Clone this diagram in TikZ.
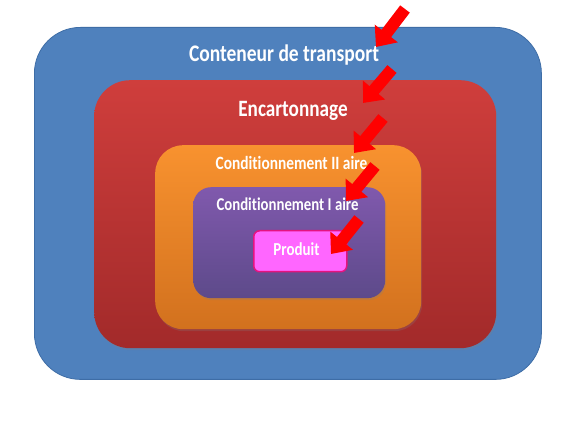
\documentclass[tikz,border=0pt]{standalone}
\usepackage{fontspec}
\setmainfont[Ligatures=NoCommon]{Carlito}
\usetikzlibrary{arrows.meta,shadows}
\definecolor{blueF}{HTML}{4F81BD}
\definecolor{blueD}{HTML}{3E6DA6}
\definecolor{redT}{HTML}{CF3E3C}
\definecolor{redB}{HTML}{A22A2A}
\definecolor{orT}{HTML}{F8922F}
\definecolor{orB}{HTML}{D2711E}
\definecolor{puT}{HTML}{8059AD}
\definecolor{puB}{HTML}{5D4A8A}
\definecolor{piF}{HTML}{FF66FF}
\definecolor{piD}{HTML}{E5137F}
\definecolor{arr}{HTML}{FF0000}
\newcommand{\tallt}[1]{\scalebox{1}[1.22]{#1}}
\begin{document}
\begin{tikzpicture}[x=1pt,y=-1pt,
  box/.style={draw, anchor=north west, inner sep=0pt},
  shd/.style={drop shadow={opacity=0.25, shadow xshift=1pt, shadow yshift=-2pt}},
  lab/.style={text=white, inner sep=0pt, anchor=base},
  redarrow/.style={draw=arr, line width=12pt, -{Triangle[width=28pt,length=17pt]}}]
\useasboundingbox[fill=white] (0,0) rectangle (587,430);
% boxes
\node[box, fill=blueF, draw=blueD, line width=0.8pt, rounded corners=46pt,
  minimum width=507pt, minimum height=352pt] (cont) at (34,27) {};
\node[box, shd, top color=redT, bottom color=redB, draw=none, rounded corners=36pt,
  minimum width=402pt, minimum height=268pt] (carton) at (94,80) {};
\node[box, shd, top color=orT, bottom color=orB, draw=none, rounded corners=28pt,
  minimum width=266pt, minimum height=184pt] (cond2) at (155,145) {};
\node[box, shd, top color=puT, bottom color=puB, draw=none, rounded corners=18pt,
  minimum width=192pt, minimum height=111pt] (cond1) at (193,187) {};
\node[box, fill=piF, draw=piD, line width=1.5pt, rounded corners=6pt,
  minimum width=93pt, minimum height=41pt] (prod) at (253,230) {};
% labels
\node[lab, font=\bfseries\fontsize{19.5}{22}\selectfont] (tcont) at (284,62) {\tallt{Conteneur de transport}};
\node[lab, font=\bfseries\fontsize{19.2}{22}\selectfont] (tcarton) at (293,117) {\tallt{Encartonnage}};
\node[lab, font=\bfseries\fontsize{15.4}{18}\selectfont] (tcond2) at (291.5,170) {\tallt{Conditionnement II aire}};
\node[lab, font=\bfseries\fontsize{14.8}{18}\selectfont] (tcond1) at (287.5,211) {\tallt{Conditionnement I aire}};
\node[lab, font=\bfseries\fontsize{15}{18}\selectfont] (tprod) at (296.5,256) {\tallt{Produit}};
% arrows
\coordinate (a1s) at (405,9);   \coordinate (a1e) at (376,47);
\coordinate (a2s) at (392,69);  \coordinate (a2e) at (363,103);
\coordinate (a3s) at (383,118); \coordinate (a3e) at (354,153);
\coordinate (a4s) at (375,166); \coordinate (a4e) at (346,201);
\coordinate (a5s) at (359,219); \coordinate (a5e) at (331,254);
\draw[redarrow] (a1s) -- (a1e);
\draw[redarrow] (a2s) -- (a2e);
\draw[redarrow] (a3s) -- (a3e);
\draw[redarrow] (a4s) -- (a4e);
\draw[redarrow] (a5s) -- (a5e);
\end{tikzpicture}
\end{document}
